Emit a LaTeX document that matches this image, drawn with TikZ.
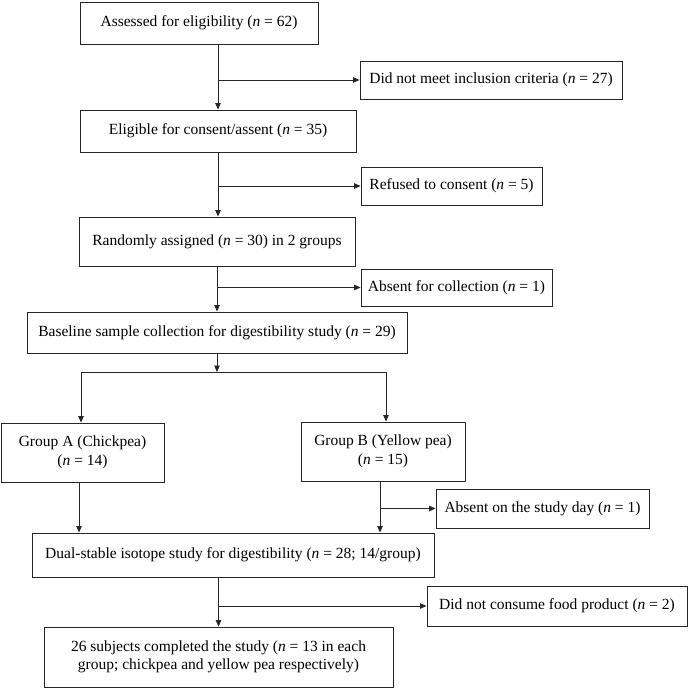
\documentclass[tikz,border=0pt]{standalone}
\usepackage{fontspec}
\setmainfont{Liberation Serif}
\usetikzlibrary{arrows.meta}
\begin{document}
\begin{tikzpicture}[x=1pt,y=-1pt,
  box/.style={draw=black!85,line width=0.9pt,inner sep=0pt,align=center,
    font=\fontsize{15.5}{18.5}\selectfont},
  arr/.style={draw=black!85,line width=0.9pt,-{Triangle[length=6.5pt,width=5.5pt]}},
  ln/.style={draw=black!85,line width=0.9pt}]
\useasboundingbox (0,0) rectangle (689,688);
\newcommand{\nn}{\textit{n}}
\node[box,minimum width=238,minimum height=42] (A) at (199,23) {Assessed for eligibility (\nn{} = 62)};
\node[box,minimum width=262,minimum height=38] (B) at (491,80) {Did not meet inclusion criteria (\nn{} = 27)};
\node[box,minimum width=276,minimum height=42] (C) at (218,131) {Eligible for consent/assent (\nn{} = 35)};
\node[box,minimum width=181,minimum height=38] (D) at (451.5,186) {Refused to consent (\nn{} = 5)};
\node[box,minimum width=276,minimum height=49] (E) at (217,241.5) {Randomly assigned (\nn{} = 30) in 2 groups};
\node[box,minimum width=191,minimum height=37] (F) at (456.5,287.5) {Absent for collection (\nn{} = 1)};
\node[box,minimum width=380,minimum height=41] (G) at (217,332.5) {Baseline sample collection for digestibility study (\nn{} = 29)};
\node[box,minimum width=163,minimum height=59] (H) at (82.5,452.5) {Group A (Chickpea)\\(\nn{} = 14)};
\node[box,minimum width=164,minimum height=59] (I) at (383,451.5) {Group B (Yellow pea)\\(\nn{} = 15)};
\node[box,minimum width=213,minimum height=39] (J) at (542.5,508.5) {Absent on the study day (\nn{} = 1)};
\node[box,minimum width=402,minimum height=44] (K) at (233,555) {Dual-stable isotope study for digestibility (\nn{} = 28; 14/group)};
\node[box,minimum width=260,minimum height=40] (L) at (557,606) {Did not consume food product (\nn{} = 2)};
\node[box,minimum width=349,minimum height=60] (M) at (218.5,657) {26 subjects completed the study (\nn{} = 13 in each\\group; chickpea and yellow pea respectively)};
% main trunk
\draw[arr] (A.south -| C.north) -- (C.north);
\draw[arr] (C.north |- B.west) -- (B.west);
\draw[arr] (C.south) -- (C.south |- E.north);
\draw[arr] (C.south |- D.west) -- (D.west);
\draw[arr] (E.south) -- (E.south |- G.north);
\draw[arr] (E.south |- F.west) -- (F.west);
% split to groups
\coordinate (ja) at (81,372);
\coordinate (jb) at (386,372);
\draw[ln] (ja) -- (jb);
\draw[arr] (G.south) -- (G.south |- ja);
\draw[arr] (ja) -- (ja |- H.north);
\draw[arr] (jb) -- (jb |- I.north);
% groups to dual study
\coordinate (ha) at (79,482);
\coordinate (ib) at (380,481);
\draw[arr] (ha) -- (ha |- K.north);
\draw[arr] (ib) -- (ib |- K.north);
\draw[arr] (ib |- J.west) -- (J.west);
% dual to final
\draw[arr] (M.north |- K.south) -- (M.north);
\draw[arr] (M.north |- L.west) -- (L.west);
\end{tikzpicture}
\end{document}
